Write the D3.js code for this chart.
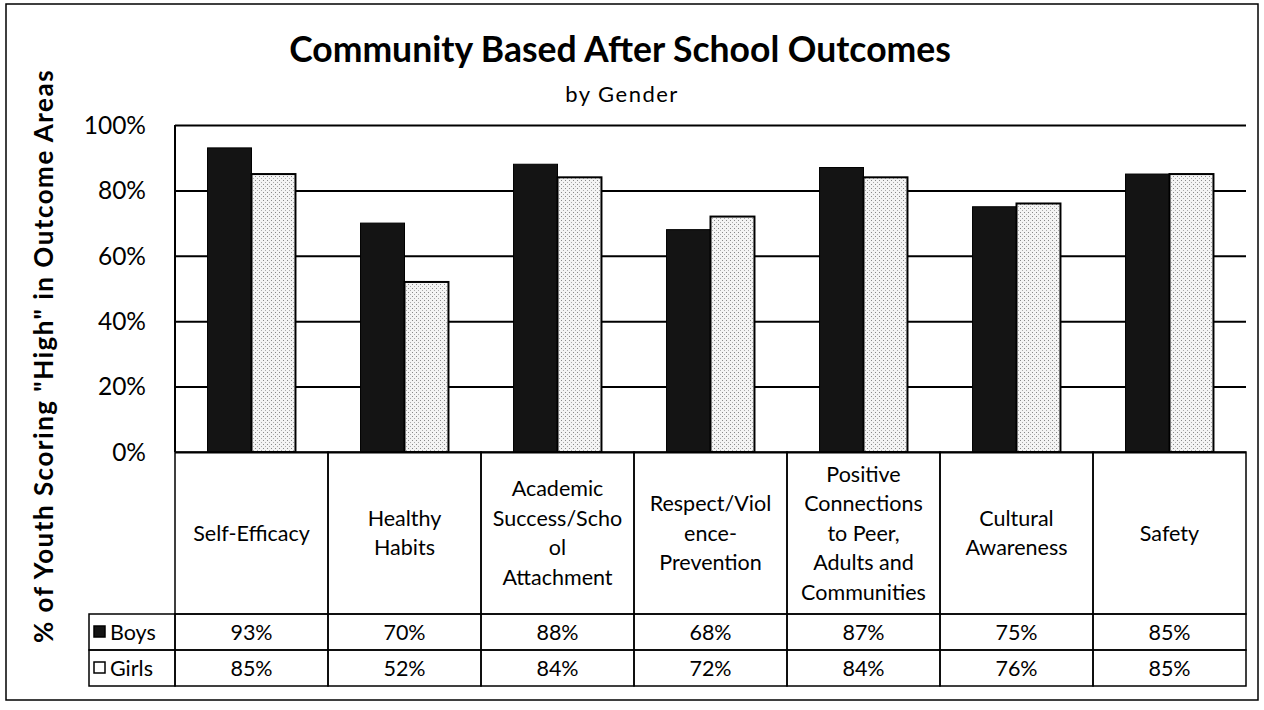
<!DOCTYPE html>
<html lang="en">
<head>
    <meta charset="utf-8">
    <title>Community Based After School Outcomes</title>
    <script src="https://d3js.org/d3.v7.min.js"></script>
    <style type="text/css">
        body {
            margin: 0;
            background-color: white;
        }
        text {
            font-family: Lato, "Open Sans", sans-serif;
            fill: black;
        }
        .grid line {
            stroke: black;
            stroke-width: 2px;
        }
        .grid path {
            stroke: none;
        }
        .cell {
            fill: none;
            stroke: black;
            stroke-width: 1.5px;
        }
    </style>
</head>
<body>
    <script type="text/javascript">

        const w = 1264; // Width
        const h = 710;  // Height

        // Data
        const categories = ["Self-Efficacy", "Healthy Habits", "Academic Success/School Attachment",
            "Respect/Violence-Prevention", "Positive Connections to Peer, Adults and Communities",
            "Cultural Awareness", "Safety"];
        // the way the labels wrap inside the table cells
        const categoryLines = [
            ["Self-Efficacy"],
            ["Healthy", "Habits"],
            ["Academic", "Success/Scho", "ol", "Attachment"],
            ["Respect/Viol", "ence-", "Prevention"],
            ["Positive", "Connections", "to Peer,", "Adults and", "Communities"],
            ["Cultural", "Awareness"],
            ["Safety"]
        ];
        const seriesNames = ["Boys", "Girls"];
        const boys = [93, 70, 88, 68, 87, 75, 85];
        const girls = [85, 52, 84, 72, 84, 76, 85];
        const yTicks = [0, 20, 40, 60, 80, 100];

        // plot + table geometry
        const plotLeft = 175, plotRight = 1246, plotTop = 125, plotBottom = 452;
        const rowBoys = 614, rowGirls = 650, rowEnd = 686;
        const legendLeft = 89;
        const tableFont = "21.5px";

        const svg = d3.select("body")
            .append("svg")
            .attr("width", w)
            .attr("height", h);

        // Outer frame
        svg.append("rect")
            .attr("x", 6)
            .attr("y", 4)
            .attr("width", 1252)
            .attr("height", 696)
            .attr("fill", "none")
            .attr("stroke", "black")
            .attr("stroke-width", 1.5);

        // girls bars are a light stipple
        const defs = svg.append("defs");
        const pat = defs.append("pattern")
            .attr("id", "stipple")
            .attr("width", 4)
            .attr("height", 4)
            .attr("patternUnits", "userSpaceOnUse");
        pat.append("rect").attr("width", 4).attr("height", 4).attr("fill", "#f4f4f4");
        pat.append("rect").attr("x", 0).attr("y", 0).attr("width", 1).attr("height", 1).attr("fill", "#888");
        pat.append("rect").attr("x", 2).attr("y", 2).attr("width", 1).attr("height", 1).attr("fill", "#aaa");

        // Scales
        const xScale = d3.scaleBand()
            .domain(categories)
            .range([plotLeft, plotRight])
            .padding(0);

        const xSub = d3.scaleBand()
            .domain(seriesNames)
            .range([0, xScale.bandwidth()])
            .paddingInner(0)
            .paddingOuter(0.74);

        const yScale = d3.scaleLinear()
            .domain([0, 100])
            .range([plotBottom, plotTop]);

        // Gridlines
        const grid = d3.axisLeft(yScale)
            .tickValues(yTicks)
            .tickSize(-(plotRight - plotLeft))
            .tickFormat("");
        svg.append("g")
            .attr("class", "grid")
            .attr("transform", "translate(" + plotLeft + ",0)")
            .call(grid);

        // Tick labels
        svg.selectAll(".ytick")
            .data(yTicks)
            .enter()
            .append("text")
            .attr("class", "ytick")
            .attr("x", 146)
            .attr("y", d => yScale(d))
            .attr("dy", "0.36em")
            .attr("text-anchor", "end")
            .attr("font-size", "24.5px")
            .text(d => d + "%");

        // Bars
        const groups = svg.selectAll(".cat")
            .data(categories)
            .enter()
            .append("g")
            .attr("class", "cat")
            .attr("transform", d => "translate(" + xScale(d) + ",0)");

        groups.append("rect")
            .attr("x", xSub("Boys"))
            .attr("y", (d, i) => yScale(boys[i]))
            .attr("width", xSub.bandwidth())
            .attr("height", (d, i) => plotBottom - yScale(boys[i]))
            .attr("fill", "#141414")
            .attr("stroke", "black")
            .attr("stroke-width", 1);

        groups.append("rect")
            .attr("x", xSub("Girls"))
            .attr("y", (d, i) => yScale(girls[i]))
            .attr("width", xSub.bandwidth())
            .attr("height", (d, i) => plotBottom - yScale(girls[i]))
            .attr("fill", "url(#stipple)")
            .attr("stroke", "black")
            .attr("stroke-width", 2);

        // Y axis line
        svg.append("line")
            .attr("x1", plotLeft).attr("x2", plotLeft)
            .attr("y1", plotTop).attr("y2", plotBottom)
            .attr("stroke", "black")
            .attr("stroke-width", 2);

        // Data table: header cells
        groups.append("rect")
            .attr("class", "cell")
            .attr("x", 0)
            .attr("y", plotBottom)
            .attr("width", xScale.bandwidth())
            .attr("height", rowBoys - plotBottom);

        const lineH = 29.5;
        groups.append("text")
            .attr("x", xScale.bandwidth() / 2)
            .attr("y", (d, i) => (plotBottom + rowBoys) / 2 - (categoryLines[i].length - 1) * lineH / 2)
            .attr("text-anchor", "middle")
            .attr("font-size", tableFont)
            .selectAll("tspan")
            .data((d, i) => categoryLines[i])
            .enter()
            .append("tspan")
            .attr("x", xScale.bandwidth() / 2)
            .attr("dy", (d, j) => j === 0 ? "0.36em" : lineH)
            .text(d => d);

        // value rows
        const rows = [
            { name: "Boys", vals: boys, y0: rowBoys, y1: rowGirls, fill: "#141414" },
            { name: "Girls", vals: girls, y0: rowGirls, y1: rowEnd, fill: "white" }
        ];

        rows.forEach(r => {
            groups.append("rect")
                .attr("class", "cell")
                .attr("x", 0)
                .attr("y", r.y0)
                .attr("width", xScale.bandwidth())
                .attr("height", r.y1 - r.y0);

            groups.append("text")
                .attr("x", xScale.bandwidth() / 2)
                .attr("y", (r.y0 + r.y1) / 2)
                .attr("dy", "0.36em")
                .attr("text-anchor", "middle")
                .attr("font-size", tableFont)
                .text((d, i) => r.vals[i] + "%");

            // legend cell
            svg.append("rect")
                .attr("class", "cell")
                .attr("x", legendLeft)
                .attr("y", r.y0)
                .attr("width", plotLeft - legendLeft)
                .attr("height", r.y1 - r.y0);

            svg.append("rect")
                .attr("x", legendLeft + 5)
                .attr("y", (r.y0 + r.y1) / 2 - 6)
                .attr("width", 11)
                .attr("height", 11)
                .attr("fill", r.fill)
                .attr("stroke", "black")
                .attr("stroke-width", 1.5);

            svg.append("text")
                .attr("x", legendLeft + 21)
                .attr("y", (r.y0 + r.y1) / 2)
                .attr("dy", "0.36em")
                .attr("font-size", tableFont)
                .text(r.name);
        });

        // Titles
        svg.append("text")
            .attr("x", 620)
            .attr("y", 62)
            .attr("text-anchor", "middle")
            .attr("font-size", "35.5px")
            .attr("font-weight", "bold")
            .text("Community Based After School Outcomes");

        svg.append("text")
            .attr("x", 622)
            .attr("y", 102)
            .attr("text-anchor", "middle")
            .attr("font-size", "22px")
            .attr("letter-spacing", "1.5px")
            .text("by Gender");

        svg.append("text")
            .attr("transform", "translate(53,356) rotate(-90)")
            .attr("text-anchor", "middle")
            .attr("font-size", "26px")
            .attr("font-weight", "bold")
            .attr("letter-spacing", "1.5px")
            .text("% of Youth Scoring \"High\" in Outcome Areas");

    </script>
</body>
</html>
